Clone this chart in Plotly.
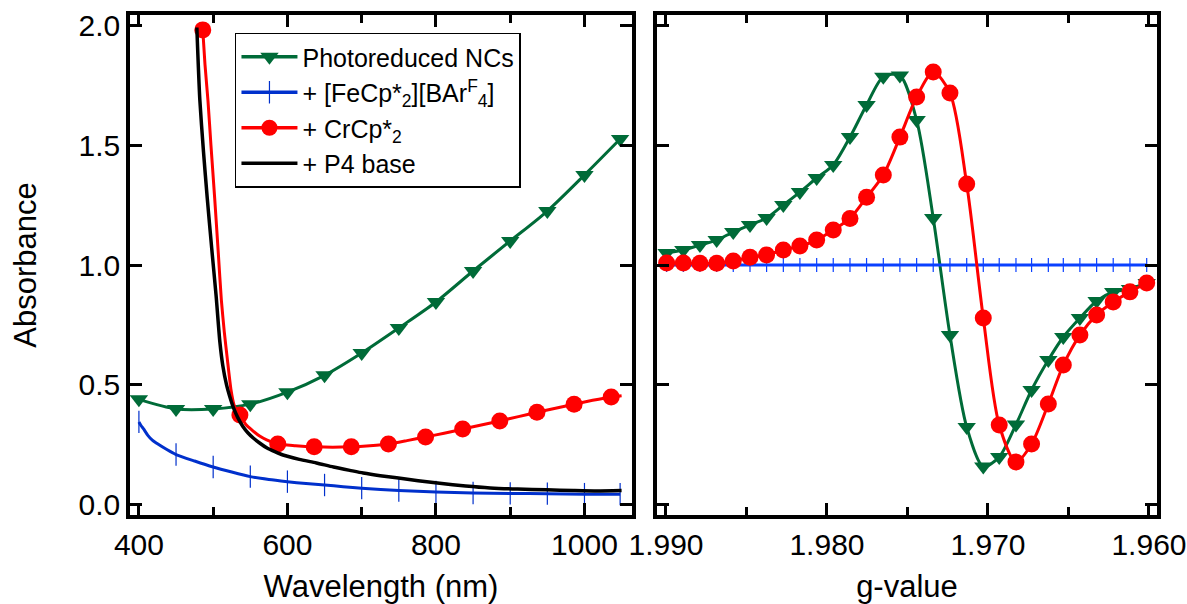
import plotly.graph_objects as go

FONT = "Liberation Sans, Arial, sans-serif"
GREEN = "#006b38"
BLUE_UV = "#0030cc"
BLUE_EPR = "#0a40ff"
RED = "#ff0000"
BLACK = "#000000"

# ---------------- UV-vis spectra (left panel) ----------------
# Photoreduced NCs
nc_nm = [400, 450, 500, 550, 600, 650, 700, 750, 800, 850, 900, 950, 1000, 1048]
nc_abs = [0.44, 0.40, 0.40, 0.42, 0.47, 0.54, 0.633, 0.7375, 0.846, 0.975, 1.10, 1.225, 1.375, 1.525]

# + [FeCp*2][BArF4]
fe_nm = [400, 403, 406, 412, 418, 424, 437, 450, 475, 500, 525, 550, 575, 600, 625,
         650, 675, 700, 750, 800, 850, 900, 950, 1000, 1048]
fe_abs = [0.346, 0.33, 0.318, 0.29, 0.27, 0.257, 0.232, 0.21, 0.183, 0.158, 0.137, 0.118,
          0.106, 0.097, 0.089, 0.083, 0.076, 0.070, 0.060, 0.054, 0.050, 0.048, 0.047,
          0.045, 0.045]
fe_marked_nm = [400, 450, 500, 550, 600, 650, 700, 750, 800, 850, 900, 950, 1000, 1048]

# + CrCp*2
cr_nm = [486, 489, 493, 497, 502, 507, 511, 515, 519, 524, 528, 532, 536, 544, 553, 562,
         572, 587, 611, 636, 661, 686, 711, 736, 761, 786, 811, 836, 861, 886, 911, 936,
         961, 986, 1011, 1036, 1050]
cr_abs = [1.98, 1.835, 1.685, 1.50, 1.28, 1.045, 0.855, 0.72, 0.61, 0.48, 0.418, 0.39,
          0.375, 0.335, 0.31, 0.288, 0.271, 0.254, 0.247, 0.242, 0.240, 0.242, 0.247,
          0.254, 0.268, 0.283, 0.299, 0.316, 0.333, 0.350, 0.368, 0.386, 0.403, 0.420,
          0.436, 0.450, 0.455]
cr_marked_nm = [486, 536, 587, 636, 686, 736, 786, 836, 886, 936, 986, 1036]

# + P4 base
p4_nm = [478, 482, 487, 492, 498, 504, 509, 513, 518, 522, 527, 533, 540, 547, 554, 563,
         572, 583, 594, 616, 639, 662, 684, 702, 725, 747, 776, 805, 840, 873, 910, 949,
         985, 1017, 1050]
p4_abs = [1.99, 1.69, 1.47, 1.28, 1.07, 0.87, 0.68, 0.58, 0.50, 0.455, 0.408, 0.365,
          0.327, 0.30, 0.279, 0.257, 0.238, 0.222, 0.208, 0.19, 0.175, 0.158, 0.144,
          0.133, 0.122, 0.113, 0.101, 0.09, 0.079, 0.071, 0.066, 0.063, 0.060, 0.058,
          0.060]

# ---------------- EPR spectra (right panel) ----------------
g_value = [1.98996, 1.98892, 1.98789, 1.98685, 1.98582, 1.98478, 1.98375, 1.98271,
           1.98168, 1.98064, 1.97961, 1.97857, 1.97754, 1.97650, 1.97547, 1.97443,
           1.97340, 1.97236, 1.97132, 1.97029, 1.96930, 1.96826, 1.96729, 1.96625,
           1.96532, 1.96429, 1.96325, 1.96222, 1.96118, 1.96014]
nc_epr = [1.05, 1.0625, 1.083, 1.104, 1.1375, 1.167, 1.196, 1.25, 1.304, 1.3625, 1.417,
          1.533, 1.667, 1.785, 1.79, 1.604, 1.196, 0.708, 0.325, 0.16, 0.20, 0.335,
          0.479, 0.604, 0.70, 0.779, 0.85, 0.8875, 0.90, 0.925]
fe_epr = [1.0] * len(g_value)
cr_epr = [1.008, 1.008, 1.007, 1.007, 1.017, 1.032, 1.042, 1.0625, 1.079, 1.104, 1.146,
          1.194, 1.282, 1.375, 1.533, 1.70, 1.804, 1.717, 1.3375, 0.779, 0.333, 0.179,
          0.254, 0.421, 0.583, 0.708, 0.792, 0.846, 0.888, 0.925]

names = ["Photoreduced NCs",
         "+ [FeCp*<sub>2</sub>][BAr<sup>F</sup><sub>4</sub>]",
         "+ CrCp*<sub>2</sub>",
         "+ P4 base"]

tri = dict(symbol="triangle-down", size=16, color=GREEN)
circ = dict(symbol="circle", size=17, color=RED)
tick = dict(symbol="line-ns", size=16, color=BLUE_UV, line=dict(width=1.2, color=BLUE_UV))
tick_r = dict(symbol="line-ns", size=10, color=BLUE_EPR, line=dict(width=1.2, color=BLUE_EPR))


def subset(xs, ys, keep):
    pts = [(x, y) for x, y in zip(xs, ys) if x in keep]
    return [p[0] for p in pts], [p[1] for p in pts]


fig = go.Figure()

# left panel
fig.add_trace(go.Scatter(x=nc_nm, y=nc_abs, mode="lines+markers", marker=tri,
                         line=dict(color=GREEN, width=3, shape="spline", smoothing=0.8),
                         showlegend=False, xaxis="x", yaxis="y"))
fig.add_trace(go.Scatter(x=fe_nm, y=fe_abs, mode="lines",
                         line=dict(color=BLUE_UV, width=3, shape="spline", smoothing=0.6),
                         showlegend=False, xaxis="x", yaxis="y"))
mx, my = subset(fe_nm, fe_abs, fe_marked_nm)
fig.add_trace(go.Scatter(x=mx, y=my, mode="markers", marker=tick,
                         showlegend=False, xaxis="x", yaxis="y"))
fig.add_trace(go.Scatter(x=cr_nm, y=cr_abs, mode="lines",
                         line=dict(color=RED, width=3, shape="spline", smoothing=0.6),
                         showlegend=False, xaxis="x", yaxis="y"))
mx, my = subset(cr_nm, cr_abs, cr_marked_nm)
fig.add_trace(go.Scatter(x=mx, y=my, mode="markers", marker=circ,
                         showlegend=False, xaxis="x", yaxis="y"))
fig.add_trace(go.Scatter(x=p4_nm, y=p4_abs, mode="lines",
                         line=dict(color=BLACK, width=3.5, shape="spline", smoothing=0.6),
                         showlegend=False, xaxis="x", yaxis="y"))

# right panel
fig.add_trace(go.Scatter(x=g_value, y=nc_epr, mode="lines+markers", marker=tri,
                         line=dict(color=GREEN, width=3, shape="spline", smoothing=0.8),
                         showlegend=False, xaxis="x2", yaxis="y2"))
fig.add_trace(go.Scatter(x=g_value, y=fe_epr, mode="lines+markers", marker=tick_r,
                         line=dict(color=BLUE_EPR, width=3),
                         showlegend=False, xaxis="x2", yaxis="y2"))
fig.add_trace(go.Scatter(x=g_value, y=cr_epr, mode="lines+markers", marker=circ,
                         line=dict(color=RED, width=3, shape="spline", smoothing=0.8),
                         showlegend=False, xaxis="x2", yaxis="y2"))

# legend entries
for name, color, mk in [(names[0], GREEN, tri), (names[1], BLUE_UV, tick),
                        (names[2], RED, circ), (names[3], BLACK, None)]:
    fig.add_trace(go.Scatter(x=[None], y=[None], name=name,
                             mode="lines+markers" if mk else "lines",
                             marker=mk, line=dict(color=color, width=3.5),
                             xaxis="x", yaxis="y"))

axis_style = dict(showline=True, linecolor="black", linewidth=3.5, mirror="ticks",
                  ticks="inside", ticklen=12, tickwidth=3, tickcolor="black",
                  showgrid=False, zeroline=False, automargin=False,
                  tickfont=dict(family=FONT, size=30, color="black"),
                  title_font=dict(family=FONT, size=31, color="black"))
minor_style = dict(ticks="inside", ticklen=8, tickwidth=3, tickcolor="black", showgrid=False)

fig.update_layout(
    width=1187, height=604,
    margin=dict(l=130, r=30, t=15, b=89),
    paper_bgcolor="white", plot_bgcolor="white",
    font=dict(family=FONT, color="black"),
    xaxis=dict(domain=[0, 0.4888], range=[388, 1064], tick0=0, dtick=200,
               minor=dict(dtick=100, **minor_style), anchor="y",
               title=dict(text="Wavelength (nm)", standoff=17), **axis_style),
    yaxis=dict(range=[-0.042, 2.042], tick0=0, dtick=0.5, tickformat=".1f", anchor="x",
               title=dict(text="Absorbance", standoff=34), **axis_style),
    xaxis2=dict(domain=[0.5131, 1], range=[1.99056, 1.9595], tick0=1.96, dtick=0.01,
                tickformat=".3f", minor=dict(dtick=0.005, **minor_style), anchor="y2",
                title=dict(text="g-value", standoff=17), **axis_style),
    yaxis2=dict(matches="y", range=[-0.042, 2.042], tick0=0, dtick=0.5, anchor="x2",
                showticklabels=False, **axis_style),
    legend=dict(x=0.1022, y=0.965, xanchor="left", yanchor="top",
                bgcolor="white", bordercolor="black", borderwidth=1.5,
                font=dict(family=FONT, size=25, color="black"),
                tracegroupgap=0, itemwidth=56),
)

fig.write_html("out.html")
